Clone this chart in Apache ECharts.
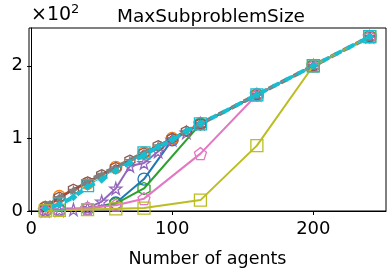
<!DOCTYPE html>
<html><head><meta charset="utf-8">
<script src="https://cdn.jsdelivr.net/npm/echarts@6/dist/echarts.min.js"></script>
<style>html,body{margin:0;padding:0;background:#fff}#c{width:392px;height:273px}</style>
</head><body><div id="c"></div>
<script>
// x grids
const xA = [10,20,40,60,80,100,120,160,200,240];
const xB = [10,20,40,60,80,120,160,200,240];
const xC = [10,20,30,40,50,60,70,80,90,100,110,120,160,200,240];
const xSq = [20,40,80,120,160,200,240];
// series values
const blueY   = [0.5,1,3,11,44,98,120,160,200,240];
const orangeY = [5,20,38,60,80,100,120,160,200,240];
const greenY  = [0.5,1,3,10,31,120,160,200,240];
const redY    = [4,18,40,60,80,100,120,160,200,240];
const purpleY = [0.5,1,2,4,13,31,62,66,82,98,108,120,160,200,240];
const brownY  = [6,19,30,40,50,60,70,80,90,100,110,120,160,200,240];
const pinkY   = [0.5,1,4,8,17,79,160,200,240];
const grayY   = [8,19,29,41,51,60,70,80,90,100,110,120,160,200,240];
const oliveY  = [0.3,1,2,3,4,15,90,200,240];
const cyanY   = [3,9,19,33,43,55,66,77,88,98,110,120,160,200,240];
const cyanSqY = [10,35,80,120,160,200,240];
// ticks
const xTicks = [0,100,200];
const yTicks = [0,100,200];
const yTickLabels = ['0','1','2'];

const STAR='path://M50,0 L61,35 L98,35 L68,57 L79,91 L50,70 L21,91 L32,57 L2,35 L39,35 Z';
const HEX='path://M50,0 L93,25 L93,75 L50,100 L7,75 L7,25 Z';
const PENT='path://M50,0 L98,35 L79,91 L21,91 L2,35 Z';

function zip(xs,ys){return xs.map((x,i)=>[x,ys[i]]);}
function ser(xs,ys,color,symbol,size,opts){
  opts=opts||{};
  return {
    type:'line', data:zip(xs,ys), symbol:symbol, symbolSize:size,
    showAllSymbol:true, animation:false, z: opts.z||2,
    lineStyle:{color:color,width:opts.lw||2,type:opts.dash||'solid',dashOffset:opts.dashOffset||0},
    itemStyle: opts.filled ? {color:color,borderWidth:0} :
      {color:'rgba(0,0,0,0)',borderColor:color,borderWidth:1.3},
    emphasis:{disabled:true}
  };
}

const chart = echarts.init(document.getElementById('c'));
chart.setOption({
  animation:false,
  grid:{left:29,right:6,top:28,bottom:57,show:true,borderColor:'#000',borderWidth:1,backgroundColor:'#fff'},
  title:{text:'MaxSubproblemSize',left:206,top:3,textAlign:'center',
    textStyle:{fontFamily:'DejaVu Sans',fontSize:18.5,fontWeight:'normal',color:'#000'}},
  graphic:[{type:'text',left:31,top:3,style:{
    text:'{a|×10}{b|2}',
    rich:{a:{fontFamily:'DejaVu Sans',fontSize:19,fill:'#000',verticalAlign:'bottom'},
          b:{fontFamily:'DejaVu Sans',fontSize:13,fill:'#000',verticalAlign:'top',padding:[0,0,9,0]}}}}],
  xAxis:{type:'value',min:-1.5,max:251.5,
    name:'Number of agents',nameLocation:'middle',nameGap:39,
    nameTextStyle:{fontFamily:'DejaVu Sans',fontSize:17.5,color:'#000'},
    axisLine:{show:true,lineStyle:{color:'#000',width:1}},
    axisTick:{show:true,customValues:xTicks,length:4,lineStyle:{color:'#000'}},
    axisLabel:{customValues:xTicks,fontFamily:'DejaVu Sans',fontSize:18,color:'#000',margin:9},
    splitLine:{show:false}},
  yAxis:{type:'value',min:0,max:252,
    axisLine:{show:true,lineStyle:{color:'#000',width:1}},
    axisTick:{show:true,customValues:yTicks,length:4,lineStyle:{color:'#000'}},
    axisLabel:{customValues:yTicks,fontFamily:'DejaVu Sans',fontSize:18,color:'#000',margin:6,
      padding:[4,0,0,0],
      formatter:function(v){const i=yTicks.indexOf(v);return i>=0?yTickLabels[i]:'';}},
    splitLine:{show:false}},
  series:[
    ser(xA,blueY,'#1f77b4','circle',12,{z:2}),
    ser(xA,orangeY,'#ff7f0e','circle',12,{z:3}),
    ser(xB,greenY,'#2ca02c',HEX,12,{z:4}),
    ser(xA,redY,'#d62728','circle',6,{z:5,filled:true}),
    ser(xC,purpleY,'#9467bd',STAR,12,{z:6}),
    ser(xC,brownY,'#8c564b',HEX,10,{z:7}),
    ser(xB,pinkY,'#e377c2',PENT,12,{z:8}),
    ser(xC,grayY,'#7f7f7f',STAR,11,{z:9,filled:true,lw:4,dash:[7,7]}),
    ser(xB,oliveY,'#bcbd22','rect',12,{z:10}),
    ser(xSq,cyanSqY,'#17becf','rect',12,{z:11,lw:1}),
    ser(xC,cyanY,'#17becf','diamond',8,{z:12,filled:true,lw:4,dash:[7,7],dashOffset:7})
  ]
});
</script></body></html>
